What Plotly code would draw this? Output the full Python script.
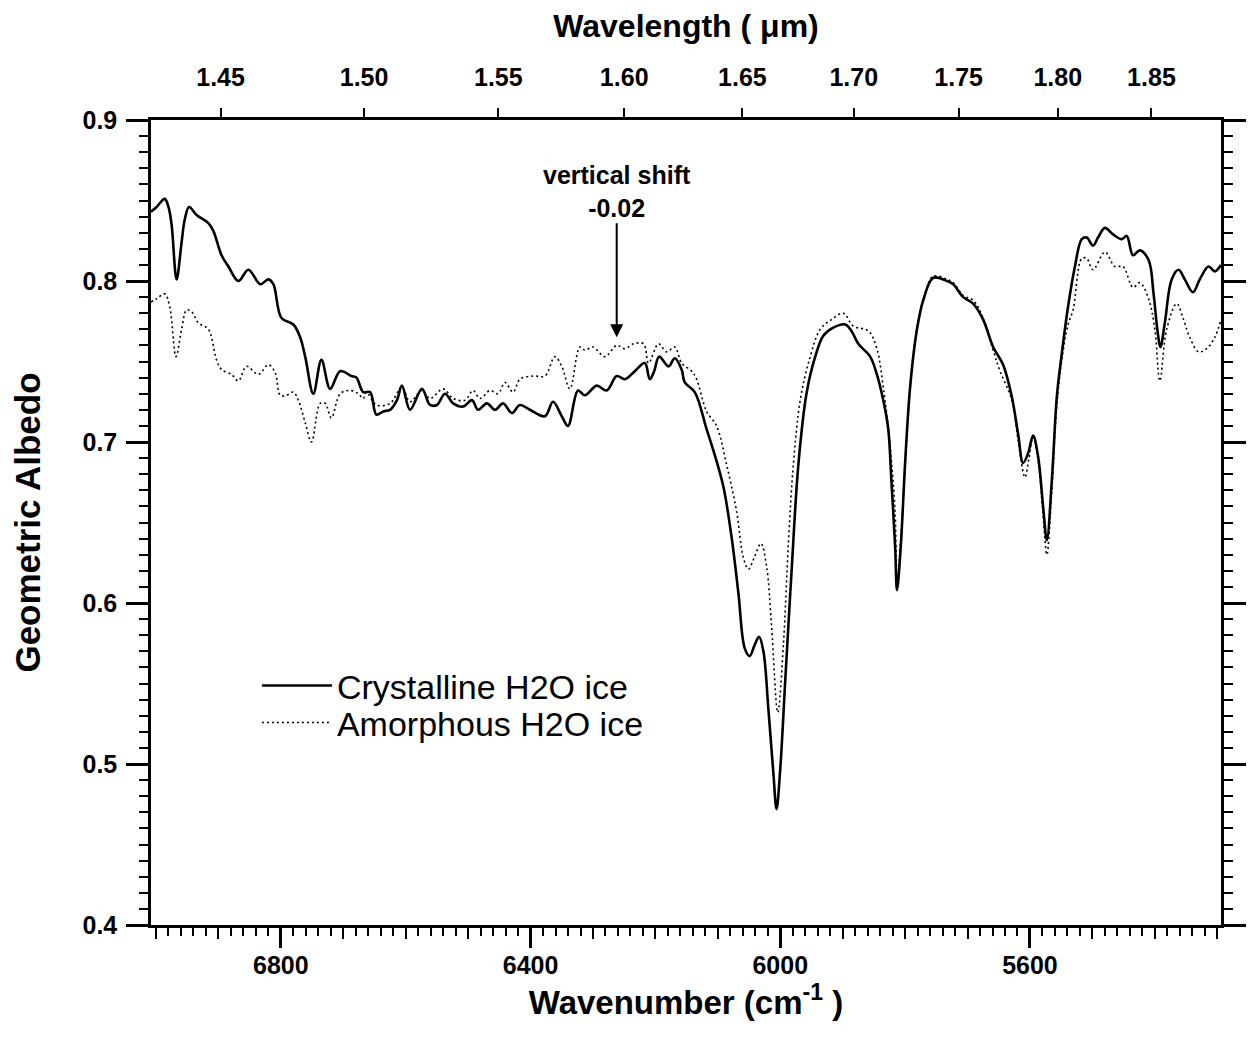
import plotly.graph_objects as go

# ---- data ----
cry_wn = [7008, 6999, 6986, 6980, 6975, 6967, 6959, 6954, 6947, 6935, 6916, 6908, 6895, 6884, 6868,
          6852, 6833, 6820, 6812, 6799, 6780, 6769, 6761, 6748, 6735, 6721, 6705, 6687, 6679, 6668,
          6657, 6647, 6636, 6625, 6614, 6606, 6593, 6574, 6561, 6550, 6537, 6524, 6508, 6494, 6484,
          6470, 6457, 6444, 6430, 6417, 6401, 6377, 6364, 6350, 6340, 6324, 6313, 6294, 6278, 6262,
          6249, 6233, 6217, 6209, 6202, 6194, 6179, 6169, 6158, 6153, 6137, 6118, 6105, 6091, 6078,
          6067, 6057, 6049, 6041, 6034, 6027, 6019, 6011, 6006, 6000, 5992, 5982, 5971, 5958, 5944,
          5931, 5915, 5896, 5886, 5875, 5856, 5846, 5835, 5827, 5822, 5816, 5813, 5807, 5800, 5792,
          5781, 5771, 5755, 5733, 5723, 5707, 5691, 5675, 5659, 5643, 5629, 5619, 5611, 5603, 5595,
          5587, 5579, 5573, 5565, 5557, 5549, 5539, 5528, 5517, 5509, 5499, 5491, 5480, 5467, 5453,
          5445, 5435, 5424, 5410, 5402, 5396, 5391, 5384, 5373, 5362, 5352, 5339, 5328, 5314, 5304,
          5294]
cry_alb = [0.843, 0.846, 0.851, 0.846, 0.835, 0.801, 0.824, 0.838, 0.846, 0.841, 0.836, 0.831, 0.816, 0.809, 0.800,
           0.807, 0.798, 0.801, 0.798, 0.777, 0.773, 0.765, 0.753, 0.730, 0.751, 0.733, 0.744, 0.741, 0.740, 0.731,
           0.731, 0.717, 0.719, 0.720, 0.726, 0.735, 0.720, 0.733, 0.723, 0.723, 0.730, 0.724, 0.722, 0.726, 0.720,
           0.724, 0.720, 0.724, 0.718, 0.723, 0.720, 0.716, 0.725, 0.716, 0.710, 0.732, 0.729, 0.735, 0.732, 0.741,
           0.739, 0.744, 0.749, 0.739, 0.744, 0.753, 0.747, 0.752, 0.745, 0.737, 0.731, 0.708, 0.692, 0.672, 0.641,
           0.606, 0.572, 0.567, 0.574, 0.579, 0.570, 0.534, 0.494, 0.472, 0.497, 0.552, 0.619, 0.686, 0.730, 0.753,
           0.766, 0.771, 0.773, 0.769, 0.761, 0.753, 0.743, 0.726, 0.708, 0.676, 0.635, 0.608, 0.635, 0.687, 0.734,
           0.770, 0.788, 0.802, 0.800, 0.798, 0.790, 0.786, 0.776, 0.759, 0.748, 0.728, 0.705, 0.687, 0.693, 0.704,
           0.691, 0.660, 0.639, 0.676, 0.728, 0.755, 0.784, 0.809, 0.826, 0.827, 0.822, 0.827, 0.833, 0.829, 0.826,
           0.828, 0.816, 0.819, 0.813, 0.792, 0.770, 0.759, 0.774, 0.801, 0.807, 0.801, 0.793, 0.801, 0.809, 0.806,
           0.810]

amo_wn = [7008, 6999, 6986, 6978, 6968, 6959, 6951, 6943, 6932, 6916, 6903, 6895, 6879, 6868, 6855,
          6836, 6820, 6809, 6801, 6791, 6780, 6772, 6761, 6751, 6737, 6729, 6719, 6705, 6689, 6676,
          6668, 6663, 6647, 6625, 6606, 6593, 6574, 6561, 6540, 6524, 6505, 6492, 6481, 6465, 6452,
          6441, 6428, 6417, 6396, 6377, 6361, 6350, 6337, 6321, 6313, 6300, 6281, 6262, 6249, 6235,
          6219, 6211, 6195, 6182, 6169, 6158, 6142, 6134, 6118, 6102, 6086, 6070, 6059, 6051, 6041,
          6031, 6022, 6014, 6004, 5995, 5987, 5979, 5968, 5952, 5936, 5918, 5899, 5883, 5859, 5846,
          5835, 5824, 5816, 5813, 5806, 5799, 5791, 5781, 5770, 5755, 5733, 5723, 5707, 5691, 5675,
          5659, 5648, 5629, 5619, 5608, 5602, 5595, 5587, 5579, 5573, 5565, 5557, 5549, 5539, 5531,
          5517, 5509, 5499, 5480, 5464, 5451, 5435, 5424, 5410, 5400, 5392, 5381, 5365, 5354, 5344,
          5330, 5317, 5304, 5294]
amo_alb = [0.787, 0.789, 0.792, 0.784, 0.753, 0.770, 0.782, 0.781, 0.774, 0.770, 0.751, 0.745, 0.742, 0.738, 0.747,
           0.742, 0.748, 0.743, 0.729, 0.729, 0.731, 0.726, 0.712, 0.700, 0.724, 0.724, 0.715, 0.730, 0.732, 0.730,
           0.727, 0.731, 0.723, 0.724, 0.734, 0.725, 0.732, 0.727, 0.733, 0.727, 0.726, 0.732, 0.727, 0.732, 0.730,
           0.737, 0.731, 0.739, 0.741, 0.741, 0.753, 0.747, 0.733, 0.759, 0.757, 0.759, 0.753, 0.760, 0.758, 0.761,
           0.761, 0.749, 0.761, 0.756, 0.759, 0.749, 0.744, 0.739, 0.719, 0.710, 0.686, 0.657, 0.628, 0.621, 0.629,
           0.637, 0.623, 0.586, 0.532, 0.574, 0.637, 0.686, 0.726, 0.753, 0.770, 0.776, 0.780, 0.772, 0.769, 0.759,
           0.734, 0.697, 0.656, 0.611, 0.645, 0.692, 0.739, 0.771, 0.790, 0.803, 0.801, 0.799, 0.791, 0.788, 0.777,
           0.757, 0.744, 0.726, 0.701, 0.678, 0.689, 0.703, 0.689, 0.655, 0.630, 0.670, 0.723, 0.751, 0.773, 0.782,
           0.814, 0.814, 0.807, 0.818, 0.809, 0.809, 0.796, 0.799, 0.789, 0.770, 0.738, 0.770, 0.786, 0.776, 0.765,
           0.756, 0.758, 0.765, 0.776]

wavelength_labels = ["1.45", "1.50", "1.55", "1.60", "1.65", "1.70", "1.75", "1.80", "1.85"]
wn_ticks = [6800, 6400, 6000, 5600]
alb_ticks = [0.4, 0.5, 0.6, 0.7, 0.8, 0.9]

X_RANGE = [7008, 5294]
Y_RANGE = [0.4, 0.9]

FONT = "Liberation Sans, Arial, sans-serif"
BOLD = dict(family=FONT, size=25, color="black", weight="bold")
LEG_FONT = dict(family=FONT, size=34, color="black")

fig = go.Figure()
fig.add_trace(go.Scatter(x=cry_wn, y=cry_alb, mode="lines", name="Crystalline H2O ice", legend="legend",
                         line=dict(color="black", width=2.6), line_shape="spline"))
fig.add_trace(go.Scatter(x=amo_wn, y=amo_alb, mode="lines", name="Amorphous H2O ice", legend="legend2",
                         line=dict(color="black", width=1.6, dash="2px,3px"), line_shape="spline"))
# helper traces so the overlay axes are drawn
fig.add_trace(go.Scatter(x=[], y=[], xaxis="x2", showlegend=False, hoverinfo="skip"))
fig.add_trace(go.Scatter(x=[], y=[], xaxis="x3", showlegend=False, hoverinfo="skip"))

fig.update_layout(
    width=1250, height=1037,
    margin=dict(l=143, r=37, t=112, b=120),
    paper_bgcolor="white", plot_bgcolor="white",
    showlegend=True,
    legend=dict(x=0.099, y=0.297, xanchor="left", yanchor="middle",
                font=LEG_FONT, itemwidth=70, bgcolor="rgba(0,0,0,0)"),
    legend2=dict(x=0.099, y=0.251, xanchor="left", yanchor="middle",
                 font=LEG_FONT, itemwidth=70, bgcolor="rgba(0,0,0,0)"),
    xaxis=dict(range=X_RANGE, showgrid=False, zeroline=False,
               showline=True, linecolor="black", linewidth=2.5, mirror=False,
               tickmode="array", tickvals=wn_ticks, ticktext=[str(v) for v in wn_ticks],
               ticks="outside", ticklen=20, tickwidth=2.5, tickcolor="black",
               ticklabelstandoff=-4,
               minor=dict(dtick=20, tick0=7000, ticks="outside", ticklen=8, tickwidth=2, tickcolor="black"),
               tickfont=BOLD,
               title=dict(text="Wavenumber (cm<sup>-1</sup> )",
                          font=dict(family=FONT, size=33, color="black", weight="bold"), standoff=8)),
    xaxis2=dict(range=X_RANGE, overlaying="x", side="top", anchor="y",
                showgrid=False, zeroline=False, showline=True, linecolor="black", linewidth=2.5,
                tickmode="array", tickvals=[10000 / float(w) for w in wavelength_labels],
                ticktext=wavelength_labels,
                ticks="outside", ticklen=9, tickwidth=2, tickcolor="black",
                ticklabelstandoff=12,
                tickfont=BOLD,
                title=dict(text="Wavelength ( \u03bcm)",
                           font=dict(family=FONT, size=32, color="black", weight="bold"), standoff=22)),
    xaxis3=dict(range=X_RANGE, overlaying="x", side="bottom", anchor="y",
                showgrid=False, zeroline=False, showline=False, showticklabels=False,
                tickmode="linear", tick0=7000, dtick=100,
                ticks="outside", ticklen=13, tickwidth=2, tickcolor="black"),
    yaxis=dict(range=Y_RANGE, showgrid=False, zeroline=False,
               showline=True, linecolor="black", linewidth=2.5, mirror="ticks",
               tickmode="array", tickvals=alb_ticks, ticktext=[f"{v:.1f}" for v in alb_ticks],
               ticks="outside", ticklen=22, tickwidth=2.5, tickcolor="black",
               ticklabelstandoff=4,
               minor=dict(dtick=0.01, tick0=0.4, ticks="outside", ticklen=9, tickwidth=2, tickcolor="black"),
               tickfont=BOLD,
               title=dict(text="Geometric Albedo",
                          font=dict(family=FONT, size=35, color="black", weight="bold"), standoff=34)),
)

fig.add_annotation(
    x=6262, y=0.765, xref="x", yref="y",
    text="<b>vertical shift</b><br><b>-0.02</b>",
    font=dict(family=FONT, size=25, color="black"),
    showarrow=True, arrowhead=2, arrowsize=1.3, arrowwidth=2, arrowcolor="black",
    ax=0, ay=-146, axref="pixel", ayref="pixel",
)

fig.write_html("out.html")
